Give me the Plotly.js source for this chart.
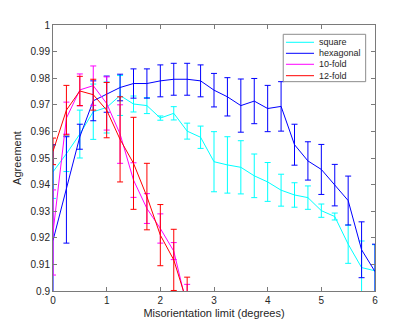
<!DOCTYPE html>
<html>
<head>
<meta charset="utf-8">
<script src="https://cdn.plot.ly/plotly-3.0.1.min.js"></script>
<style>html,body{margin:0;padding:0;background:#fff;}#chart{width:415px;height:328px;}</style>
</head>
<body>
<div id="chart"></div>
<script>
// Misorientation limit (degrees)
const xLimit = [0, 0.25, 0.5, 0.75, 1, 1.25, 1.5, 1.75, 2, 2.25, 2.5, 2.75, 3, 3.25, 3.5, 3.75, 4, 4.25, 4.5, 4.75, 5, 5.25, 5.5, 5.75, 6];

const seriesNames = ["square", "hexagonal", "10-fold", "12-fold"];

const squareVals = [0.9448, 0.9516, 0.959, 0.9674, 0.969, 0.9735, 0.9703, 0.9697, 0.965, 0.9668, 0.9601, 0.9578, 0.9486, 0.9474, 0.9465, 0.9433, 0.941, 0.9379, 0.9361, 0.9351, 0.9302, 0.928, 0.9176, 0.9088, 0.9076];
const squareErr  = [0.010, 0.0067, 0.009, 0.0104, 0.0096, 0.0075, 0.003, 0.003, 0.0008, 0.0025, 0.003, 0.0042, 0.0113, 0.0106, 0.010, 0.0082, 0.0073, 0.006, 0.0046, 0.0044, 0.0025, 0.0013, 0.0072, 0.010, 0.0098];

const hexVals = [0.919, 0.938, 0.958, 0.9715, 0.974, 0.9765, 0.978, 0.978, 0.979, 0.9796, 0.9796, 0.979, 0.9755, 0.973, 0.9697, 0.9714, 0.9686, 0.9694, 0.955, 0.9489, 0.9457, 0.9398, 0.934, 0.9155, 0.9073];
const hexErr  = [0.036, 0.020, 0.0047, 0.0075, 0.0068, 0.005, 0.0055, 0.0055, 0.006, 0.006, 0.006, 0.006, 0.0063, 0.0072, 0.010, 0.0085, 0.0087, 0.0093, 0.0077, 0.0072, 0.0094, 0.0078, 0.0092, 0.0105, 0.0103];

const tenVals = [0.922, 0.965, 0.9756, 0.9772, 0.9705, 0.959, 0.9417, 0.931, 0.9235, 0.915, 0.894];
const tenErr  = [0.016, 0.006, 0.006, 0.0074, 0.010, 0.011, 0.0065, 0.0056, 0.0055, 0.0032, 0.0085];

const twelveVals = [0.9525, 0.968, 0.9752, 0.9738, 0.968, 0.957, 0.948, 0.9355, 0.921, 0.9117, 0.8955];
const twelveErr  = [0.005, 0.0093, 0.0055, 0.0058, 0.0104, 0.016, 0.0173, 0.0125, 0.0115, 0.0115, 0.0097];

const xTicks = [0, 1, 2, 3, 4, 5, 6];
const yTicks = [0.9, 0.91, 0.92, 0.93, 0.94, 0.95, 0.96, 0.97, 0.98, 0.99, 1];
const yTickText = ["0.9", "0.91", "0.92", "0.93", "0.94", "0.95", "0.96", "0.97", "0.98", "0.99", "1"];

const colors = ["#00ffff", "#0000ff", "#ff00ff", "#ff0000"];
const valsList = [squareVals, hexVals, tenVals, twelveVals];
const errList = [squareErr, hexErr, tenErr, twelveErr];

const traces = valsList.map((v, i) => ({
  type: "scatter",
  mode: "lines",
  x: xLimit.slice(0, v.length),
  y: v,
  name: seriesNames[i],
  line: {color: colors[i], width: 1},
  error_y: {type: "data", array: errList[i], visible: true, color: colors[i], thickness: 1, width: 3},
  showlegend: false,
  hoverinfo: "x+y"
}));

// custom legend (paper coordinates)
const legX0 = 0.715, legX1 = 0.971, legY0 = 0.787, legY1 = 0.965;
const rowY = [0.935, 0.8936, 0.8523, 0.8094];
const shapes = [{type: "rect", xref: "paper", yref: "paper", x0: legX0, x1: legX1, y0: legY0, y1: legY1,
  line: {color: "#8c8c8c", width: 1}, fillcolor: "#ffffff", layer: "above"}];
const annotations = [];
seriesNames.forEach((n, i) => {
  shapes.push({type: "line", xref: "paper", yref: "paper", x0: 0.7235, x1: 0.8106, y0: rowY[i], y1: rowY[i],
    line: {color: colors[i], width: 1}, layer: "above"});
  annotations.push({xref: "paper", yref: "paper", x: 0.8198, y: rowY[i], xanchor: "left", yanchor: "middle",
    text: n, showarrow: false, font: {family: "Liberation Sans, Arial, sans-serif", size: 9, color: "#262626"}});
});

const axisCommon = {
  showline: true, linecolor: "#7a7a7a", linewidth: 1, mirror: "ticks",
  ticks: "inside", ticklen: 4, tickcolor: "#7a7a7a", tickwidth: 1,
  showgrid: false, zeroline: false,
  tickfont: {family: "Liberation Sans, Arial, sans-serif", size: 10, color: "#262626"}
};

const layout = {
  width: 415, height: 328,
  margin: {l: 53, r: 40, t: 25, b: 37, pad: 0},
  paper_bgcolor: "#ffffff", plot_bgcolor: "#ffffff",
  showlegend: false,
  xaxis: Object.assign({}, axisCommon, {
    range: [0, 6], tickvals: xTicks, ticktext: xTicks.map(String),
    title: {text: "Misorientation limit (degrees)", standoff: 4,
      font: {family: "Liberation Sans, Arial, sans-serif", size: 11, color: "#262626"}}
  }),
  yaxis: Object.assign({}, axisCommon, {
    range: [0.9, 1], tickvals: yTicks, ticktext: yTickText,
    title: {text: "Agreement", standoff: 6,
      font: {family: "Liberation Sans, Arial, sans-serif", size: 11, color: "#262626"}}
  }),
  shapes: shapes,
  annotations: annotations
};

Plotly.newPlot("chart", traces, layout, {staticPlot: true, displayModeBar: false});
</script>
</body>
</html>
